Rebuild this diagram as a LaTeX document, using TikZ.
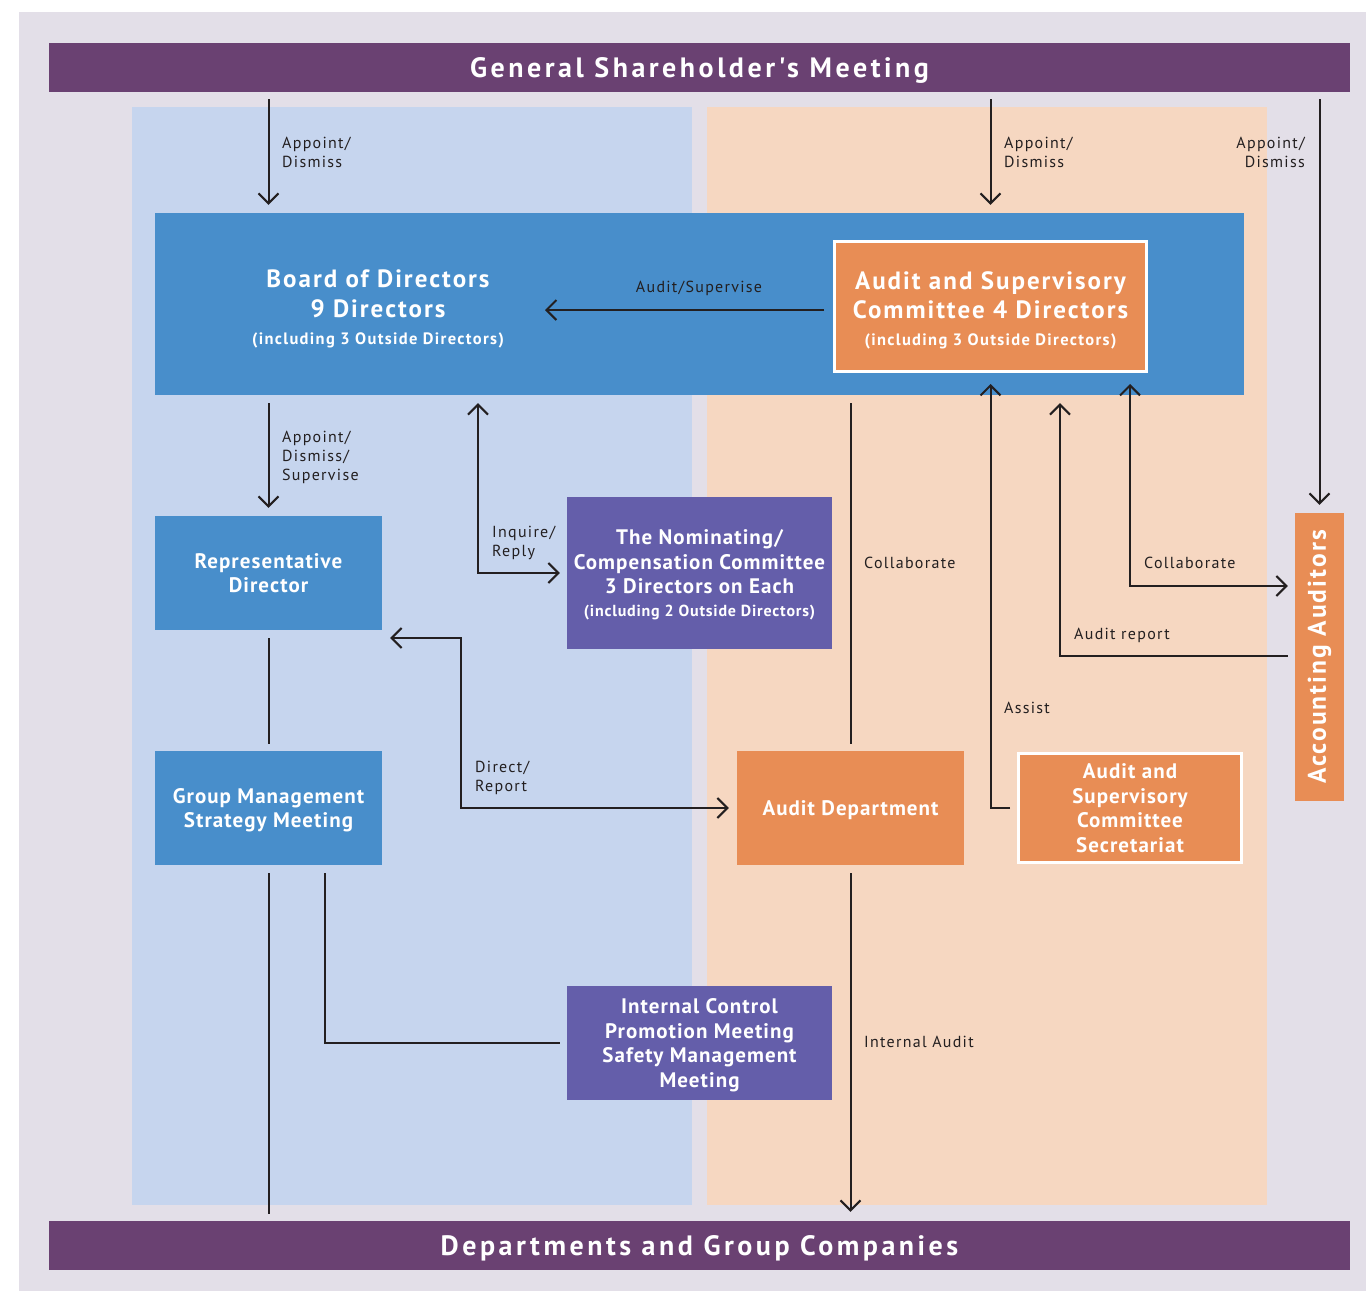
\documentclass[tikz,border=0pt]{standalone}
\usepackage{fontspec}
\setmainfont{PT Sans}
\newfontfamily\spacedfont[LetterSpace=8]{PT Sans}
\newfontfamily\boxfont[LetterSpace=5]{PT Sans}
\newfontfamily\widefont[LetterSpace=12.5]{PT Sans}
\usetikzlibrary{arrows.meta}
\definecolor{bggray}{HTML}{E3DFE8}
\definecolor{barpurple}{HTML}{6A4172}
\definecolor{paleblue}{HTML}{C6D5EE}
\definecolor{peach}{HTML}{F6D7C1}
\definecolor{boxblue}{HTML}{488ECB}
\definecolor{boxorange}{HTML}{E88D55}
\definecolor{boxpurple}{HTML}{645EAA}
\definecolor{ink}{HTML}{231F20}
\begin{document}
\begin{tikzpicture}[x=1pt,y=-1pt,
  box/.style={rectangle, inner sep=0pt, align=center, text=white, text depth=0pt,
    font=\boxfont\bfseries\fontsize{21}{24.5}\selectfont},
  framed/.style={box, draw=white, line width=3pt},
  bar/.style={rectangle, inner sep=0pt, fill=barpurple, text=white,
    minimum width=1301pt, minimum height=49pt, text height=19.6pt, text depth=0pt,
    font=\widefont\bfseries\fontsize{28}{32}\selectfont},
  big/.style={align=center, text=white, inner sep=0pt,
    font=\spacedfont\bfseries\fontsize{25}{29.5}\selectfont},
  lbl/.style={inner sep=0pt, align=left, text=ink,
    font=\spacedfont\fontsize{16}{19}\selectfont},
  ln/.style={draw=ink, line width=2pt},
  arr/.style={ln, -{Straight Barb[length=10pt,width=20pt]}},
  arrb/.style={ln, {Straight Barb[length=10pt,width=20pt]}-{Straight Barb[length=10pt,width=20pt]}}
]
\useasboundingbox (0,0) rectangle (1366,1291);
\fill[white] (0,0) rectangle (1366,1291);
\fill[bggray] (19,12) rectangle (1366,1291);
\fill[paleblue] (132,107) rectangle (692,1205);
\fill[peach] (707,107) rectangle (1267,1205);

% bars
\node[bar] (top) at (699.5,67.5) {General Shareholder's Meeting};
\node[bar] (bot) at (699.5,1245.5) {Departments and Group Companies};

% boxes
\node[box, fill=boxblue, minimum width=1089pt, minimum height=182pt] (bod) at (699.5,304) {};
\node[big] (bodtext) at (378,309)
  {Board of Directors\\
   9 Directors\\[-2.5pt]
   \fontsize{16.5}{19}\selectfont (including 3 Outside Directors)};
\node[framed, fill=boxorange, minimum width=312pt, minimum height=130pt] (asc) at (990.5,306.5) {};
\node[big] (asctext) at (990.5,310.5)
  {Audit and Supervisory\\
   Committee 4 Directors\\[-2.5pt]
   \fontsize{16.5}{19}\selectfont (including 3 Outside Directors)};
\node[box, fill=boxblue, minimum width=227pt, minimum height=114pt] (rep) at (268.5,573)
  {Representative\\Director};
\node[box, fill=boxpurple, minimum width=265pt, minimum height=152pt] (nom) at (699.5,573)
  {The Nominating/\\Compensation Committee\\3 Directors on Each\\[-2pt]
   \fontsize{16}{19}\selectfont (including 2 Outside Directors)};
\node[box, fill=boxblue, minimum width=227pt, minimum height=114pt] (gm) at (268.5,808)
  {Group Management\\Strategy Meeting};
\node[box, fill=boxorange, minimum width=227pt, minimum height=114pt] (ad) at (850.5,808)
  {Audit Department};
\node[framed, fill=boxorange, minimum width=223pt, minimum height=109pt] (sec) at (1130,808)
  {Audit and\\Supervisory\\Committee\\Secretariat};
\node[box, fill=boxorange, minimum width=49pt, minimum height=288pt] (aa) at (1319.5,657) {};
\node[rotate=90, text=white, inner sep=0pt, font=\spacedfont\bfseries\fontsize{25.5}{30}\selectfont]
  (aatext) at (aa.center) {Accounting Auditors};
\node[box, fill=boxpurple, minimum width=265pt, minimum height=114pt] (ic) at (699.5,1043)
  {Internal Control\\Promotion Meeting\\Safety Management\\Meeting};

% helper coordinates
\coordinate (bodtip) at (545,310);
\coordinate (iq) at (478,573);
\coordinate (dr) at (461,638);
\coordinate (arx) at (1060,656);
\coordinate (cb) at (1130,586);
\coordinate (ic1) at (325,1043);

% connectors
\draw[arr, shorten <=7pt, shorten >=8pt] (top.south -| rep.center) -- (bod.north -| rep.center);
\draw[arr, shorten <=7pt, shorten >=8pt] (top.south -| asc.center) -- (bod.north -| asc.center);
\draw[arr, shorten <=7pt, shorten >=8pt] (top.south -| aa.center) -- (aa.north);
\draw[arr, shorten <=9pt] (asc.west |- bodtip) -- (bodtip);
\draw[arr, shorten <=8pt, shorten >=8pt] (bod.south -| rep.center) -- (rep.north);
\draw[arrb, shorten <=8pt, shorten >=7pt] (bod.south -| iq) -- (iq) -- (nom.west);
\draw[ln, shorten <=8pt, shorten >=7pt] (rep.south) -- (gm.north);
\draw[arrb, shorten <=8pt, shorten >=8pt] (rep.east |- dr) -- (dr) -- (dr |- ad.west) -- (ad.west);
\draw[ln, shorten <=8pt, shorten >=7pt] (bod.south -| ad.center) -- (ad.north);
\draw[arr, shorten <=7pt, shorten >=11pt] (sec.west) -- (sec.west -| asc.south) -- (asc.south);
\draw[arr, shorten <=7pt, shorten >=8pt] (aa.west |- arx) -- (arx) -- (arx |- bod.south);
\draw[arrb, shorten <=11pt, shorten >=7pt] (asc.south -| cb) -- (cb) -- (cb -| aa.west);
\draw[ln, shorten <=8pt, shorten >=7pt] (gm.south) -- (gm.south |- bot.north);
\draw[ln, shorten <=8pt, shorten >=7pt] (gm.south -| ic1) -- (ic1) -- (ic.west);
\draw[arr, shorten <=8pt, shorten >=9pt] (ad.south) -- (ad.south |- bot.north);

% labels
\node[lbl, anchor=north west] (l1) at (282,137) {Appoint/\\Dismiss};
\node[lbl, anchor=north west] (l2) at (1004,137) {Appoint/\\Dismiss};
\node[lbl, anchor=north east, align=right] (l3) at (1305,137) {Appoint/\\Dismiss};
\node[lbl] (l4) at (699,288) {Audit/Supervise};
\node[lbl, anchor=north west] (l5) at (282,431) {Appoint/\\Dismiss/\\Supervise};
\node[lbl, anchor=north west] (l6) at (492,526) {Inquire/\\Reply};
\node[lbl, anchor=north west] (l7) at (475,761) {Direct/\\Report};
\node[lbl, anchor=north west] (l8) at (864,557) {Collaborate};
\node[lbl, anchor=north west] (l9) at (1144,557) {Collaborate};
\node[lbl, anchor=north west] (l10) at (1074,628) {Audit report};
\node[lbl, anchor=north west] (l11) at (1004,702) {Assist};
\node[lbl, anchor=north west] (l12) at (864,1036) {Internal Audit};
\end{tikzpicture}
\end{document}
